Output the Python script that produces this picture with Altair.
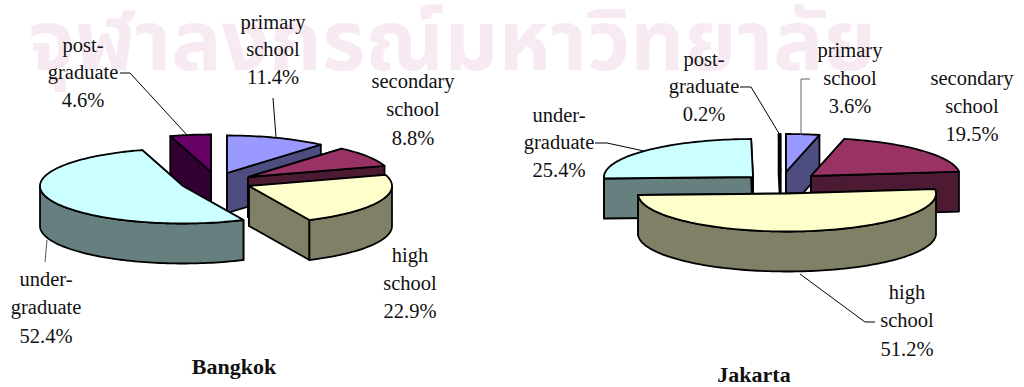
import math
import altair as alt
import pandas as pd

# Education shares (percent), clockwise from 12 o'clock
levels = ["primary school", "secondary school", "high school", "under-graduate", "post-graduate"]
bangkok_share = [11.4, 8.8, 22.9, 52.4, 4.6]
jakarta_share = [3.6, 19.5, 51.2, 25.4, 0.2]

top_colors = ["#9999FF", "#993366", "#FFFFCC", "#CCFFFF", "#660066"]
wall_colors = ["#4D4D80", "#4D1A33", "#808066", "#668080", "#330033"]

# Exploded apex of each slice, painter's order and ellipse size per pie
bangkok_apex = [(227, 173), (248, 177), (249, 186), (183, 186), (211, 172)]
jakarta_apex = [(786, 172), (811, 176), (787, 193.5), (753, 177), (780.5, 172)]
bangkok_order = [4, 0, 1, 2, 3]
jakarta_order = [3, 4, 0, 1, 2]
DEPTH = 40

bangkok_labels = [
    (273, 23, "primary"), (273, 50, "school"), (273, 78, "11.4%"),
    (83, 46, "post-"), (83, 73, "graduate"), (83, 101, "4.6%"),
    (413, 82, "secondary"), (413, 110, "school"), (413, 139, "8.8%"),
    (410, 256, "high"), (410, 284, "school"), (410, 312, "22.9%"),
    (46, 280, "under-"), (46, 308, "graduate"), (46, 337, "52.4%"),
]
jakarta_labels = [
    (704, 60, "post-"), (704, 87, "graduate"), (704, 115, "0.2%"),
    (850, 51, "primary"), (850, 79, "school"), (850, 107, "3.6%"),
    (972, 79, "secondary"), (972, 107, "school"), (972, 135, "19.5%"),
    (559, 116, "under-"), (559, 143, "graduate"), (559, 171, "25.4%"),
    (907, 293, "high"), (907, 321, "school"), (907, 350, "51.2%"),
]
titles = [(234, 367, "Bangkok"), (754, 375, "Jakarta")]

leaders = [
    ([(120, 73), (130, 73), (187, 135)], "#000000"),
    ([(273, 98), (276, 137)], "#000000"),
    ([(47, 240), (45, 262)], "#555555"),
    ([(740, 87), (751, 87), (780, 135)], "#000000"),
    ([(810, 79), (801, 79), (801, 135)], "#666666"),
    ([(595, 143), (607, 143), (644, 151)], "#000000"),
    ([(800, 274), (865, 322), (875, 322)], "#000000"),
]

X = alt.X("x:Q", scale=alt.Scale(domain=[0, 1024], range=[0, 1024]), axis=None)
Y = alt.Y("y:Q", scale=alt.Scale(domain=[0, 387], range=[0, 387]), axis=None)


def rim(apex, rx, ry, start, end):
    """Points along the top edge of a slice between two bearings in degrees."""
    steps = max(2, int(abs(end - start) / 1.5) + 1)
    pts = []
    for i in range(steps + 1):
        a = math.radians(start + (end - start) * i / steps)
        pts.append((apex[0] + rx * math.sin(a), apex[1] - ry * math.cos(a)))
    return pts


def polygon(points, fill, width=1.8):
    closed = list(points) + [points[0]]
    df = pd.DataFrame({"x": [p[0] for p in closed], "y": [p[1] for p in closed],
                       "i": list(range(len(closed)))})
    return alt.Chart(df).mark_line(fill=fill, stroke="#000000", strokeWidth=width,
                                   strokeJoin="round").encode(x=X, y=Y, order="i:Q")


def hang(points):
    """Extrude an edge downward by the slice thickness."""
    return list(points) + [(x, y + DEPTH) for x, y in reversed(points)]


def pie(shares, apexes, order, rx, ry):
    total = sum(shares)
    bounds = [0.0]
    for s in shares:
        bounds.append(bounds[-1] + s / total * 360)
    layers = []
    for k in order:
        start, end = bounds[k], bounds[k + 1]
        apex = apexes[k]
        arc = rim(apex, rx, ry, start, end)
        layers.append(polygon(hang([apex, arc[0]]), wall_colors[k]))
        layers.append(polygon(hang([apex, arc[-1]]), wall_colors[k]))
        lo, hi = max(start, 90), min(end, 270)
        if lo < hi:
            layers.append(polygon(hang(rim(apex, rx, ry, lo, hi)), wall_colors[k]))
        layers.append(polygon([apex] + arc, top_colors[k]))
    return layers


watermark = alt.Chart(pd.DataFrame({"x": [452], "y": [70], "t": ["จุฬาลงกรณ์มหาวิทยาลัย"]})).mark_text(
    font="Noto Sans Thai, DejaVu Sans, Noto Sans", fontSize=84, fontWeight="bold", color="#F8EAF2",
    baseline="alphabetic", align="center",
).encode(x=X, y=Y, text="t:N")

layers = [watermark]
layers += pie(bangkok_share, bangkok_apex, bangkok_order, 143, 37.5)
layers += pie(jakarta_share, jakarta_apex, jakarta_order, 149, 38)

for n, (pts, color) in enumerate(leaders):
    df = pd.DataFrame({"x": [p[0] for p in pts], "y": [p[1] for p in pts], "i": range(len(pts))})
    layers.append(alt.Chart(df).mark_line(stroke=color, strokeWidth=1).encode(x=X, y=Y, order="i:Q"))

label_df = pd.DataFrame(bangkok_labels + jakarta_labels, columns=["x", "y", "t"])
layers.append(alt.Chart(label_df).mark_text(
    font="Liberation Serif", fontSize=20.5, color="#111111", baseline="middle", align="center"
).encode(x=X, y=Y, text="t:N"))

title_df = pd.DataFrame(titles, columns=["x", "y", "t"])
layers.append(alt.Chart(title_df).mark_text(
    font="Liberation Serif", fontSize=22, fontWeight="bold", color="#111111",
    baseline="middle", align="center"
).encode(x=X, y=Y, text="t:N"))

chart = alt.layer(*layers).properties(
    width=1024, height=387, padding=0, background="#FFFFFF",
    autosize=alt.AutoSizeParams(type="none")
).configure_view(stroke=None)

chart.save("out.html", embed_options={"renderer": "svg", "actions": False})
